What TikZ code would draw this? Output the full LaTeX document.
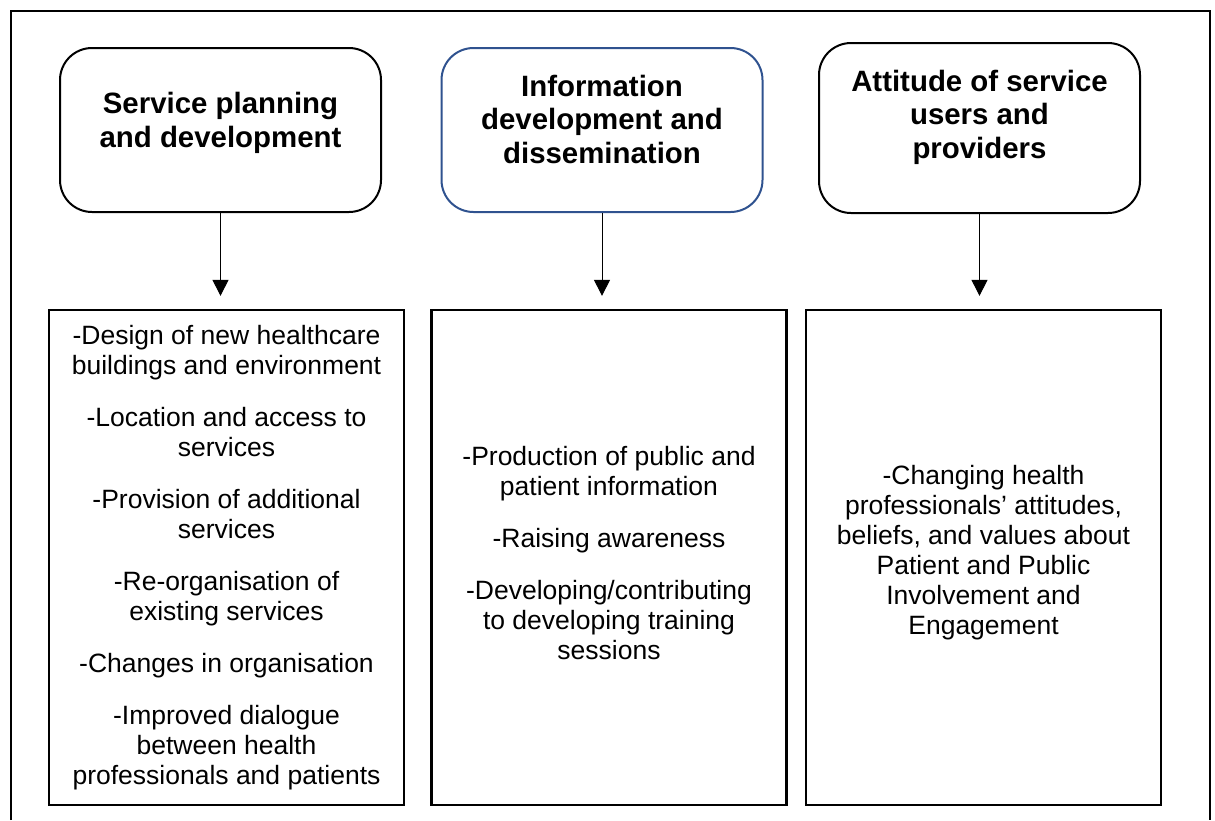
\documentclass[tikz,border=0pt]{standalone}
\usepackage{fontspec}
\setmainfont{Liberation Sans}
\usetikzlibrary{arrows.meta}
\definecolor{infoblue}{RGB}{47,82,143}

\begin{document}
\begin{tikzpicture}[x=0.5pt, y=-0.5pt,
    head node/.style={rectangle,rounded corners=16pt,draw,line width=1pt,
                      minimum width=160.5pt,minimum height=82pt},
    head text/.style={align=center,yshift=5.5pt,
                      font=\bfseries\fontsize{14.7}{16.75}\selectfont},
    list node/.style={rectangle,draw,line width=1.15pt,minimum width=177.5pt,
                      minimum height=247.5pt,align=center,
                      font=\fontsize{13.25}{15}\selectfont},
    every edge/.style={draw,line width=0.5pt,
                       -{Triangle[width=8pt,length=8pt]},shorten >=6.5pt}]

  \useasboundingbox (0,0) rectangle (1215,820);
  \draw[line width=1pt] (11,820) -- (11,11) -- (1210,11) -- (1210,820);

  % headings
  \node[head node, label={[head text,yshift=-2pt]center:{Service planning\\and development}}] (1) at (220.5,130) {};
  \node[head node, draw=infoblue, label={[head text]center:{Information\\development and\\dissemination}}] (2) at (602,130) {};
  \node[head node, minimum height=85pt, label={[head text]center:{Attitude of service\\users and\\providers}}] (3) at (979.5,128) {};

  % lists
  \node[list node] (4) at (226.5,557.5) {-Design of new healthcare\\buildings and environment\\[11pt]
    -Location and access to\\services\\[11pt]
    -Provision of additional\\services\\[11pt]
    -Re-organisation of\\existing services\\[11pt]
    -Changes in organisation\\[11pt]
    -Improved dialogue\\between health\\professionals and patients};
  \node[list node] (5) at (609,557.5) {-Production of public and\\patient information\\[11pt]
    -Raising awareness\\[11pt]
    -Developing/contributing\\to developing training\\sessions\\[-10pt]\mbox{}};
  \node[list node] (6) at (983.5,557.5) {-Changing health\\professionals’ attitudes,\\beliefs, and values about\\Patient and Public\\Involvement and\\Engagement\\[-7pt]\mbox{}};

  \path
    (1) edge (1.south |- 4.north)
    (2) edge (2.south |- 5.north)
    (3) edge (3.south |- 6.north)
    ;

\end{tikzpicture}
\end{document}
